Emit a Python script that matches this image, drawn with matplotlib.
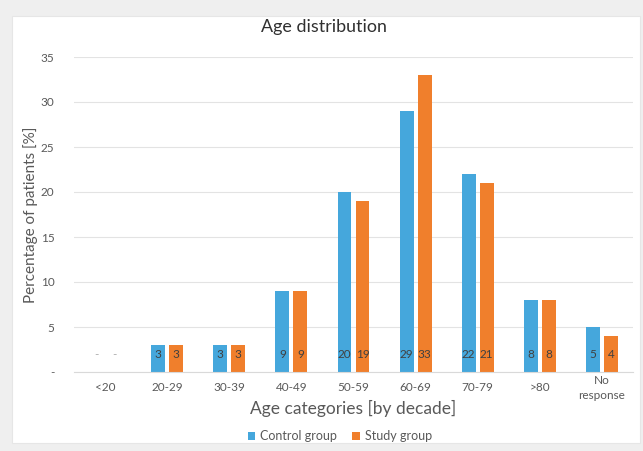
import numpy as np
import matplotlib
matplotlib.use("Agg")
from matplotlib import pyplot as plt
from matplotlib.patches import FancyBboxPatch

###############
#    DATA     #
###############

CATEGORIES = ['<20', '20-29', '30-39', '40-49', '50-59', '60-69', '70-79', '>80', 'No\nresponse']
CONTROL = [0, 3, 3, 9, 20, 29, 22, 8, 5]
STUDY = [0, 3, 3, 9, 19, 33, 21, 8, 4]
Y_TICKS = [0, 5, 10, 15, 20, 25, 30, 35]

BLUE = '#45a7dc'
ORANGE = '#f07f2c'
TEXT = '#595959'
GRID = '#e3e3e3'

plt.rcParams['font.family'] = ['Lato', 'DejaVu Sans']

fig = plt.figure(figsize=(6.43, 4.51), dpi=100)
fig.patch.set_facecolor('#efefef')

# white chart panel
panel = FancyBboxPatch((12 / 643, 8 / 451), 628 / 643, 427 / 451,
                       boxstyle='square,pad=0', transform=fig.transFigure,
                       facecolor='white', edgecolor='#e6e6e6', lw=0.8, zorder=-10)
fig.patches.append(panel)

ax = fig.add_axes([74 / 643, 1 - 372 / 451, (633 - 74) / 643, (372 - 57) / 451])
ax.set_facecolor('none')
ax.set_zorder(2)

x = np.arange(len(CATEGORIES))
width = 0.225
offset = 0.145

bars_c = ax.bar(x - offset, CONTROL, width, color=BLUE, label='Control group', zorder=3)
bars_s = ax.bar(x + offset, STUDY, width, color=ORANGE, label='Study group', zorder=3)

# value labels sitting at the bar bases
for bars, vals in ((bars_c, CONTROL), (bars_s, STUDY)):
    for b, v in zip(bars, vals):
        txt = str(v) if v else '-'
        ax.text(b.get_x() + b.get_width() / 2, 1.9, txt, ha='center', va='center',
                fontsize=8.5, color='#404040' if v else '#aaaaaa', zorder=4)

ax.set_xlim(-0.5, len(CATEGORIES) - 0.5)
ax.set_ylim(0, 35)
ax.set_yticks(Y_TICKS)
ax.set_yticklabels(['-' if t == 0 else str(t) for t in Y_TICKS])
ax.set_xticks(x)
ax.set_xticklabels(CATEGORIES, linespacing=1.45, va='center')
ax.tick_params(axis='both', length=0, colors=TEXT, labelsize=8.5)
ax.tick_params(axis='y', pad=14)
ax.tick_params(axis='x', pad=11.5)

ax.grid(axis='y', color=GRID, lw=0.8, zorder=0)
for side in ('top', 'right', 'left'):
    ax.spines[side].set_visible(False)
ax.spines['bottom'].set_color('#d9d9d9')
ax.spines['bottom'].set_zorder(5)

ax.set_xlabel('Age categories [by decade]', fontsize=12.5, color=TEXT, va='center')
ax.xaxis.set_label_coords(0.5, -(408 - 372) / 315)
ax.set_ylabel('Percentage of patients [%]', fontsize=11, color=TEXT, va='center')
ax.yaxis.set_label_coords((31 - 74) / 559, 0.5)

fig.text(324 / 643, 1 - 27 / 451, 'Age distribution', ha='center', va='center',
         fontsize=12.9, color='#303030')

fig.legend(loc='center', bbox_to_anchor=(340 / 643, 1 - 436 / 451), ncol=2,
           frameon=False, fontsize=9, labelcolor=TEXT, handlelength=0.6,
           handleheight=0.6, handletextpad=0.4, columnspacing=1.2)

fig.savefig('out.png', dpi=100, facecolor=fig.get_facecolor())
